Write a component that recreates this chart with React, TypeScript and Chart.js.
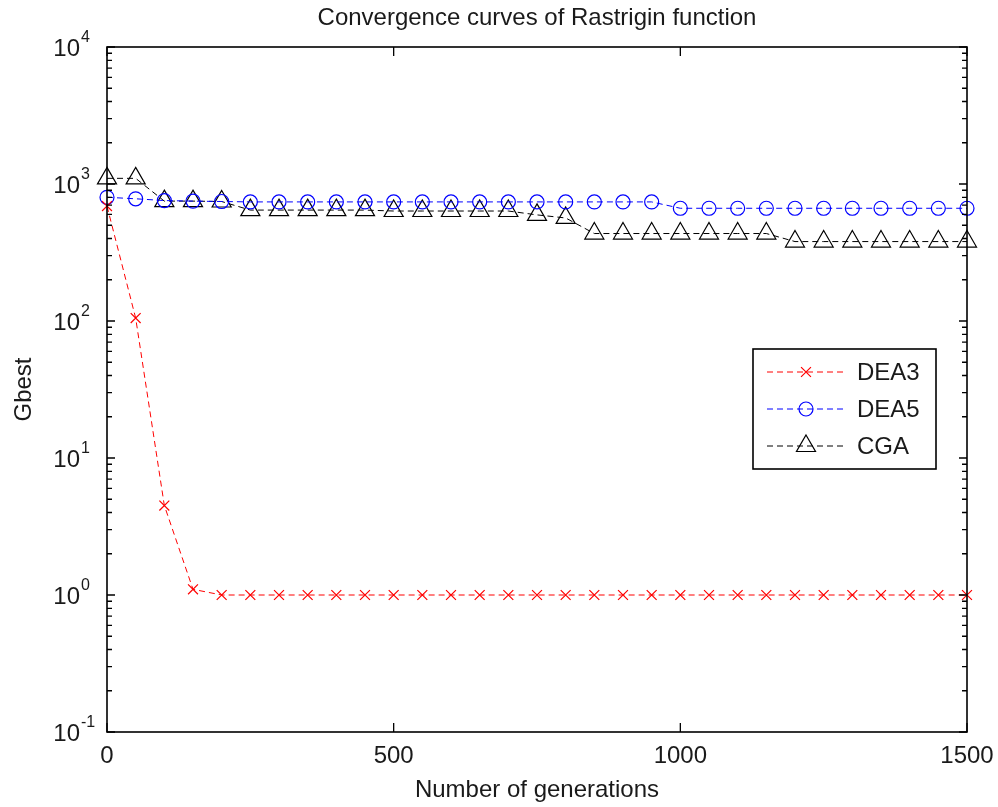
import React, { useEffect, useRef } from 'react';
import { Chart, registerables } from 'chart.js';
import { drawPoint } from 'chart.js/helpers';

Chart.register(...registerables);

// Generation numbers at which the best fitness was recorded
const generations = [
  0, 50, 100, 150, 200, 250, 300, 350, 400, 450, 500, 550, 600, 650, 700, 750,
  800, 850, 900, 950, 1000, 1050, 1100, 1150, 1200, 1250, 1300, 1350, 1400, 1450, 1500,
];

// Best fitness (Gbest) per algorithm
const dea3 = [
  690, 105, 4.5, 1.1, 1, 1, 1, 1, 1, 1, 1, 1, 1, 1, 1, 1,
  1, 1, 1, 1, 1, 1, 1, 1, 1, 1, 1, 1, 1, 1, 1,
];
const dea5 = [
  800, 780, 757, 750, 745, 740, 740, 740, 740, 740, 740, 740, 740, 740, 740, 740,
  740, 740, 740, 740, 665, 665, 665, 665, 665, 665, 665, 665, 665, 665, 665,
];
const cga = [
  1100, 1100, 750, 750, 745, 645, 645, 645, 645, 645, 635, 635, 635, 635, 635, 595,
  565, 435, 435, 435, 435, 435, 435, 435, 380, 380, 380, 380, 380, 380, 380,
];

const seriesNames = ['DEA3', 'DEA5', 'CGA'];
const xTicks = [0, 500, 1000, 1500];
const yDecadeExponents = [-1, 0, 1, 2, 3, 4];
const minorMultipliers = [2, 3, 4, 5, 6, 7, 8, 9];

const titleText = 'Convergence curves of Rastrigin function';
const xTitle = 'Number of generations';
const yTitle = 'Gbest';

const FONT = '"Liberation Sans", Arial, Helvetica, sans-serif';
const TEXT = '#1a1a1a';

const toPoints = (vals: number[]) => generations.map((g, i) => ({ x: g, y: vals[i] }));

// Box-style axes with inward ticks, 10^n labels, titles and the legend
const matlabFrame = {
  id: 'matlabFrame',
  afterDatasetsDraw(chart: any) {
    const { ctx, chartArea: a, scales } = chart;
    const x = scales.x;
    const y = scales.y;
    ctx.save();
    ctx.setLineDash([]);
    ctx.strokeStyle = '#000';

    // frame
    ctx.lineWidth = 1.6;
    ctx.strokeRect(a.left, a.top, a.right - a.left, a.bottom - a.top);

    // ticks
    ctx.lineWidth = 1.3;
    ctx.beginPath();
    for (const v of xTicks) {
      const px = x.getPixelForValue(v);
      ctx.moveTo(px, a.bottom);
      ctx.lineTo(px, a.bottom - 9);
      ctx.moveTo(px, a.top);
      ctx.lineTo(px, a.top + 9);
    }
    const maxExp = yDecadeExponents[yDecadeExponents.length - 1];
    for (const e of yDecadeExponents) {
      const py = y.getPixelForValue(Math.pow(10, e));
      ctx.moveTo(a.left, py);
      ctx.lineTo(a.left + 8, py);
      ctx.moveTo(a.right, py);
      ctx.lineTo(a.right - 8, py);
      if (e < maxExp) {
        for (const m of minorMultipliers) {
          const pm = y.getPixelForValue(m * Math.pow(10, e));
          ctx.moveTo(a.left, pm);
          ctx.lineTo(a.left + 5, pm);
          ctx.moveTo(a.right, pm);
          ctx.lineTo(a.right - 5, pm);
        }
      }
    }
    ctx.stroke();

    // x tick labels
    ctx.fillStyle = TEXT;
    ctx.font = `24px ${FONT}`;
    ctx.textAlign = 'center';
    ctx.textBaseline = 'alphabetic';
    for (const v of xTicks) {
      ctx.fillText(String(v), x.getPixelForValue(v), a.bottom + 31);
    }

    // y tick labels as 10 with a raised exponent
    for (const e of yDecadeExponents) {
      const py = y.getPixelForValue(Math.pow(10, e));
      ctx.font = `24px ${FONT}`;
      ctx.textAlign = 'right';
      ctx.fillText('10', a.left - 27, py + 9);
      ctx.font = `16px ${FONT}`;
      ctx.textAlign = 'left';
      ctx.fillText(String(e), a.left - 26, py - 5);
    }

    // title and axis titles
    const cx = (a.left + a.right) / 2;
    ctx.font = `24px ${FONT}`;
    ctx.textAlign = 'center';
    ctx.fillText(titleText, cx, 25);
    ctx.fillText(xTitle, cx, a.bottom + 65);
    ctx.save();
    ctx.translate(24, (a.top + a.bottom) / 2);
    ctx.rotate(-Math.PI / 2);
    ctx.textBaseline = 'middle';
    ctx.fillText(yTitle, 0, 0);
    ctx.restore();

    // legend
    const lx = 753;
    const ly = 349;
    const lw = 183;
    const lh = 120;
    ctx.fillStyle = '#fff';
    ctx.fillRect(lx, ly, lw, lh);
    ctx.lineWidth = 1.6;
    ctx.strokeStyle = '#000';
    ctx.strokeRect(lx, ly, lw, lh);
    const rows = [372, 409, 446];
    chart.data.datasets.forEach((ds: any, i: number) => {
      const ry = rows[i];
      ctx.save();
      ctx.strokeStyle = ds.borderColor;
      ctx.lineWidth = ds.borderWidth;
      ctx.setLineDash(ds.borderDash);
      ctx.beginPath();
      ctx.moveTo(767, ry);
      ctx.lineTo(845, ry);
      ctx.stroke();
      ctx.setLineDash([]);
      ctx.lineWidth = ds.pointBorderWidth;
      ctx.strokeStyle = ds.pointBorderColor;
      ctx.fillStyle = 'rgba(0,0,0,0)';
      drawPoint(ctx, { pointStyle: ds.pointStyle, rotation: 0, radius: ds.pointRadius, borderWidth: ds.pointBorderWidth }, 806, ry);
      ctx.restore();
      ctx.fillStyle = TEXT;
      ctx.font = `24px ${FONT}`;
      ctx.textAlign = 'left';
      ctx.textBaseline = 'middle';
      ctx.fillText(ds.label, 857, ry + 1);
    });
    ctx.restore();
  },
};

const makeDataset = (label: string, vals: number[], color: string, style: string, radius: number) => ({
  label,
  data: toPoints(vals),
  borderColor: color,
  borderWidth: 1,
  borderDash: [6, 4],
  pointStyle: style,
  pointRadius: radius,
  pointBorderColor: color,
  pointBorderWidth: 1.2,
  pointBackgroundColor: 'rgba(0,0,0,0)',
  tension: 0,
  clip: false,
});

export default function App() {
  const canvasRef = useRef<HTMLCanvasElement | null>(null);

  useEffect(() => {
    const canvas = canvasRef.current;
    if (!canvas) return;
    const chart = new Chart(canvas, {
      type: 'line',
      data: {
        datasets: [
          makeDataset(seriesNames[0], dea3, '#ff0000', 'crossRot', 7),
          makeDataset(seriesNames[1], dea5, '#0000ff', 'circle', 7),
          makeDataset(seriesNames[2], cga, '#000000', 'triangle', 11),
        ] as any,
      },
      options: {
        animation: false,
        responsive: false,
        devicePixelRatio: 1,
        layout: { padding: { left: 107, top: 47, right: 31, bottom: 75 } },
        scales: {
          x: { type: 'linear', min: 0, max: 1500, display: false },
          y: { type: 'logarithmic', min: 0.1, max: 10000, display: false },
        },
        plugins: {
          legend: { display: false },
          title: { display: false },
          tooltip: { enabled: false },
        },
      },
      plugins: [matlabFrame],
    });
    return () => chart.destroy();
  }, []);

  return (
    <div style={{ position: 'absolute', left: 0, top: 0, width: 998, height: 807, background: '#fff' }}>
      <canvas ref={canvasRef} width={998} height={807} />
    </div>
  );
}
